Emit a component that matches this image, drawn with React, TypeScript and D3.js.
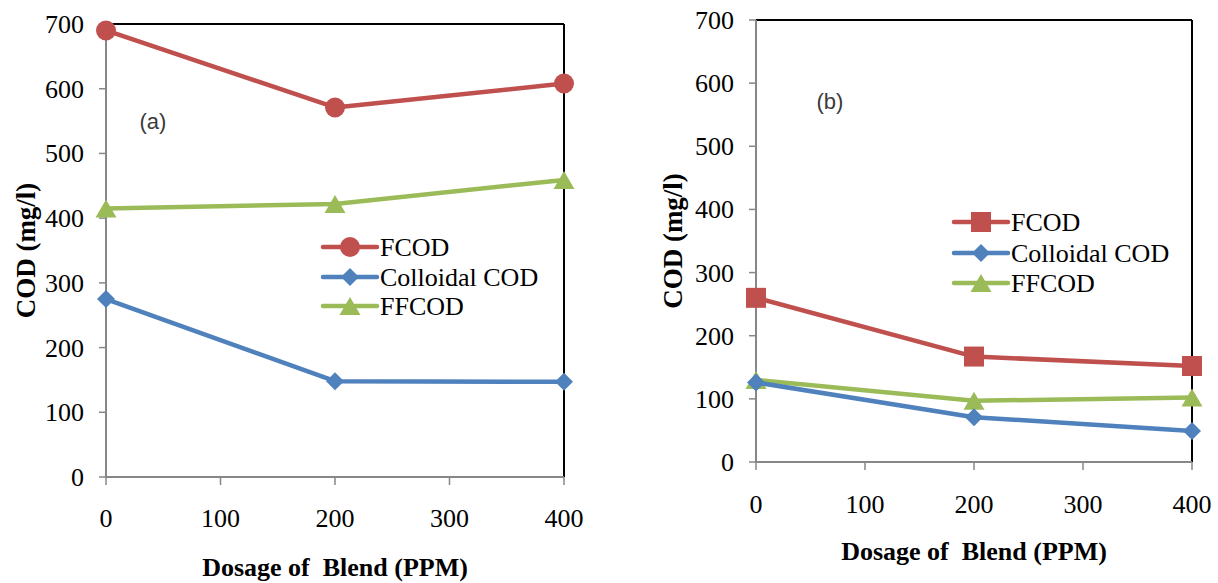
import * as d3 from "d3";

// dosage of blend (ppm)
const dosage = [0, 200, 400];
const xTicks = [0, 100, 200, 300, 400];
const yTicks = [0, 100, 200, 300, 400, 500, 600, 700];

// panel (a)
const fcodA = [690, 571, 608];
const colloidalA = [275, 148, 147];
const ffcodA = [415, 422, 459];

// panel (b)
const fcodB = [260, 167, 152];
const colloidalB = [126, 71, 49];
const ffcodB = [130, 97, 102];

const seriesNames = ["FCOD", "Colloidal COD", "FFCOD"];
const RED = "#C0504D";
const BLUE = "#4F81BD";
const GREEN = "#9BBB59";
const AXIS = "#878787";
const SERIF = "Liberation Serif, Times New Roman, serif";

type Layout = {
  left: number;
  right: number;
  top: number;
  bottom: number;
  yTitleX: number;
  xTickY: number;
  xTitleY: number;
  legX1: number;
  legX2: number;
  legRows: number[];
  tag: string;
  tagX: number;
  tagY: number;
};

function Marker({ shape, x, y, color }: { shape: string; x: number; y: number; color: string }) {
  if (shape === "circle") return <circle cx={x} cy={y} r={10} fill={color} />;
  if (shape === "square") return <rect x={x - 10} y={y - 10} width={20} height={20} fill={color} />;
  if (shape === "diamond")
    return <path d={d3.symbol(d3.symbolSquare, 162)()!} transform={`translate(${x},${y}) rotate(45)`} fill={color} />;
  // triangle: bounding box centred on the point
  return <path d={`M${x},${y - 9}L${x + 10.5},${y + 9}L${x - 10.5},${y + 9}Z`} fill={color} />;
}

function Panel({ L, data, shapes }: { L: Layout; data: number[][]; shapes: string[] }) {
  const x = d3.scaleLinear().domain([0, 400]).range([L.left, L.right]);
  const y = d3.scaleLinear().domain([0, 700]).range([L.bottom, L.top]);
  const line = d3
    .line<number>()
    .x((_, i) => x(dosage[i]))
    .y((d) => y(d));
  const colors = [RED, BLUE, GREEN];
  // draw order: FFCOD under, Colloidal, FCOD on top
  const order = [2, 1, 0];
  const midY = (L.top + L.bottom) / 2;
  const midX = (L.left + L.right) / 2;

  return (
    <g>
      {/* frame: black top/right, grey axes */}
      <line x1={L.left} x2={L.right} y1={L.top} y2={L.top} stroke="#000" strokeWidth={2} />
      <line x1={L.right} x2={L.right} y1={L.top} y2={L.bottom} stroke="#000" strokeWidth={2} />
      <line x1={L.left} x2={L.left} y1={L.top} y2={L.bottom + 1} stroke={AXIS} strokeWidth={2} />
      <line x1={L.left - 1} x2={L.right} y1={L.bottom} y2={L.bottom} stroke={AXIS} strokeWidth={2} />

      {yTicks.map((t) => (
        <g key={"y" + t}>
          <line x1={L.left - 7} x2={L.left} y1={y(t)} y2={y(t)} stroke={AXIS} strokeWidth={1.5} />
          <text x={L.left - 22} y={y(t) + 9} textAnchor="end" fontFamily={SERIF} fontSize={26} fill="#000">
            {t}
          </text>
        </g>
      ))}
      {xTicks.map((t) => (
        <g key={"x" + t}>
          <line x1={x(t)} x2={x(t)} y1={L.bottom} y2={L.bottom + 8} stroke={AXIS} strokeWidth={1.5} />
          <text x={x(t)} y={L.xTickY} textAnchor="middle" fontFamily={SERIF} fontSize={26} fill="#000">
            {t}
          </text>
        </g>
      ))}

      <text
        transform={`translate(${L.yTitleX},${midY}) rotate(-90)`}
        textAnchor="middle"
        fontFamily={SERIF}
        fontWeight="bold"
        fontSize={27}
      >
        COD (mg/l)
      </text>
      <text
        x={midX}
        y={L.xTitleY}
        textAnchor="middle"
        fontFamily={SERIF}
        fontWeight="bold"
        fontSize={26}
        style={{ whiteSpace: "pre" }}
      >
        {"Dosage of  Blend (PPM)"}
      </text>

      <text
        x={L.tagX}
        y={L.tagY + 7}
        textAnchor="middle"
        fontFamily="Liberation Sans, Arial, sans-serif"
        fontSize={22}
        fill="#3a3a3a"
      >
        {L.tag}
      </text>

      {order.map((s) => (
        <g key={"s" + s}>
          <path d={line(data[s])!} fill="none" stroke={colors[s]} strokeWidth={4.5} strokeLinejoin="round" />
          {data[s].map((v, i) => (
            <Marker key={i} shape={shapes[s]} x={x(dosage[i])} y={y(v)} color={colors[s]} />
          ))}
        </g>
      ))}

      {seriesNames.map((name, s) => (
        <g key={"l" + s}>
          <line
            x1={L.legX1}
            x2={L.legX2}
            y1={L.legRows[s]}
            y2={L.legRows[s]}
            stroke={colors[s]}
            strokeWidth={4.5}
            strokeLinecap="round"
          />
          <Marker shape={shapes[s]} x={(L.legX1 + L.legX2) / 2} y={L.legRows[s]} color={colors[s]} />
          <text x={L.legX2 + 3} y={L.legRows[s] + 9} fontFamily={SERIF} fontSize={26} fill="#000">
            {name}
          </text>
        </g>
      ))}
    </g>
  );
}

const layoutA: Layout = {
  left: 106,
  right: 564,
  top: 24,
  bottom: 477,
  yTitleX: 35,
  xTickY: 527,
  xTitleY: 576,
  legX1: 323,
  legX2: 377,
  legRows: [247, 277, 306],
  tag: "(a)",
  tagX: 153,
  tagY: 122,
};

const layoutB: Layout = {
  left: 756,
  right: 1192,
  top: 20,
  bottom: 462,
  yTitleX: 682,
  xTickY: 513,
  xTitleY: 560,
  legX1: 954,
  legX2: 1008,
  legRows: [222, 253, 283],
  tag: "(b)",
  tagX: 830,
  tagY: 102,
};

export default function App() {
  return (
    <svg
      width={1218}
      height={583}
      style={{ position: "absolute", left: 0, top: 0, background: "#fff" }}
    >
      <rect width={1218} height={583} fill="#fff" />
      <Panel L={layoutA} data={[fcodA, colloidalA, ffcodA]} shapes={["circle", "diamond", "triangle"]} />
      <Panel L={layoutB} data={[fcodB, colloidalB, ffcodB]} shapes={["square", "diamond", "triangle"]} />
    </svg>
  );
}
